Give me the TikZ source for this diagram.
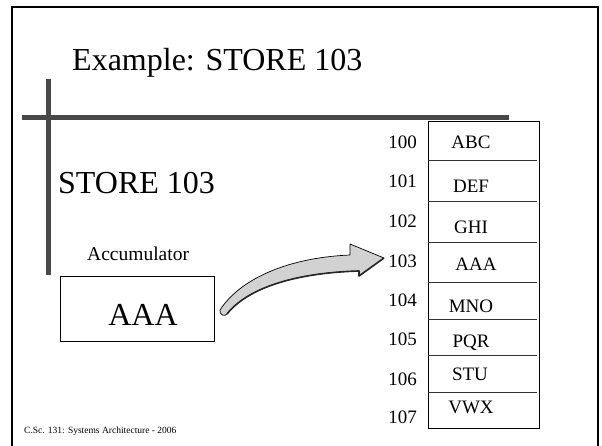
\documentclass[tikz,border=0pt]{standalone}
\usepackage{fontspec}
\setmainfont{Liberation Serif}
\newcommand{\fsz}[1]{\fontsize{#1}{#1}\selectfont}
\definecolor{barcol}{RGB}{72,72,72}
\definecolor{arrowfill}{RGB}{210,210,210}
\begin{document}
\begin{tikzpicture}[x=1pt,y=-1pt,
  framebox/.style={draw=black, line width=0.9pt},
  addr/.style={anchor=base east, inner sep=0pt, font={\fsz{19}}},
  cell/.style={anchor=base, inner sep=0pt, font={\fsz{19}}},
  divider/.style={draw=black!80, line width=0.8pt},
  bar/.style={fill=barcol, draw=none}]
\useasboundingbox (0,0) rectangle (602,445);
% slide frame
\draw[line width=2pt] (12,446) -- (12,7) -- (598,7) -- (598,446);
% decorative bars
\fill[bar] (46,79) rectangle (50.5,275);
\fill[bar] (22,115) rectangle (509,120);
% title
\node[anchor=base west, inner sep=0pt, font={\fsz{32}}] (title) at (72,70) {Example: STORE 103};
\node[anchor=base west, inner sep=0pt, font={\fsz{32}}] (instr) at (58,193) {STORE 103};
\node[anchor=base west, inner sep=0pt, font={\fsz{19.5}}] (acclabel) at (87,260) {Accumulator};
% accumulator
\node[framebox, minimum width=154pt, minimum height=65pt, anchor=north west, inner sep=0pt] (acc) at (59.5,276) {};
\node[anchor=base, inner sep=0pt, font={\fsz{32}}] (accval) at (143,325) {AAA};
% memory
\node[framebox, minimum width=111pt, minimum height=307pt, anchor=north west, inner sep=0pt] (mem) at (428,121) {};
\foreach \y in {160,201,242,282,319,355,392}{
  \draw[divider] (428,\y) -- (537,\y);
}
\node[addr] (a100) at (417,148) {100};
\node[addr] (a101) at (417,187) {101};
\node[addr] (a102) at (417,227) {102};
\node[addr] (a103) at (417,267) {103};
\node[addr] (a104) at (417,306) {104};
\node[addr] (a105) at (417,345) {105};
\node[addr] (a106) at (417,385) {106};
\node[addr] (a107) at (417,423) {107};
\node[cell] (c100) at (471,148) {ABC};
\node[cell] (c101) at (471,192) {DEF};
\node[cell] (c102) at (471,233) {GHI};
\node[cell] (c103) at (476,270) {AAA};
\node[cell] (c104) at (471,312) {MNO};
\node[cell] (c105) at (471,347) {PQR};
\node[cell] (c106) at (470,380) {STU};
\node[cell] (c107) at (471,413) {VWX};
% footer
\node[anchor=base west, inner sep=0pt, font={\fsz{9.5}}] (footer) at (24,433) {C.Sc. 131: Systems Architecture - 2006};
% curved block arrow
\coordinate (tail) at (220,310);
\coordinate (tip) at (384,258);
\filldraw[fill=arrowfill, draw=black, line width=0.7pt, line join=round]
  (tail) .. controls (238,282) and (282,258) .. (350,255) -- (350,244) -- (tip)
  -- (359,276) -- (359,271) .. controls (290,273) and (246,290) .. (227,314)
  .. controls (225,317) and (219,315) .. (tail) -- cycle;
\draw[black!85, line width=1.6pt, line join=round]
  (tip) -- (359,276) -- (359,271) .. controls (290,273) and (246,290) .. (227,314);
\end{tikzpicture}
\end{document}
